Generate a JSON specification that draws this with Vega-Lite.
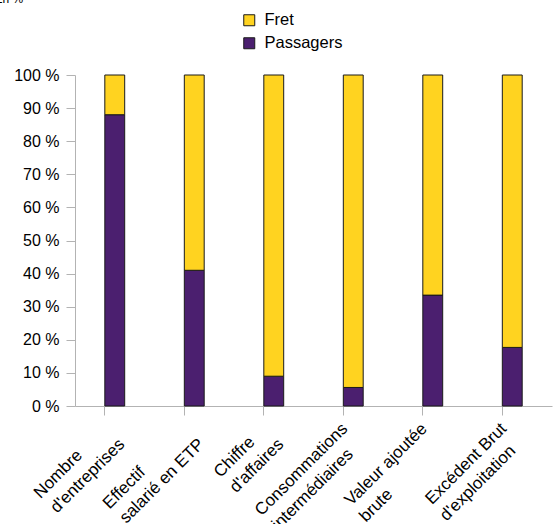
{
  "$schema": "https://vega.github.io/schema/vega-lite/v6.json",
  "width": 477,
  "height": 331,
  "autosize": "none",
  "padding": {"left": 75, "top": 75, "right": 1, "bottom": 118},
  "background": "white",
  "config": {"view": {"stroke": null}, "font": "Liberation Sans"},
  "data": {
    "values": [
      {"indicateur": "Nombre d'entreprises", "type": "Passagers", "part": 88},
      {"indicateur": "Nombre d'entreprises", "type": "Fret", "part": 12},
      {"indicateur": "Effectif salarié en ETP", "type": "Passagers", "part": 41},
      {"indicateur": "Effectif salarié en ETP", "type": "Fret", "part": 59},
      {"indicateur": "Chiffre d'affaires", "type": "Passagers", "part": 9},
      {"indicateur": "Chiffre d'affaires", "type": "Fret", "part": 91},
      {"indicateur": "Consommations intermédiaires", "type": "Passagers", "part": 5.6},
      {"indicateur": "Consommations intermédiaires", "type": "Fret", "part": 94.4},
      {"indicateur": "Valeur ajoutée brute", "type": "Passagers", "part": 33.5},
      {"indicateur": "Valeur ajoutée brute", "type": "Fret", "part": 66.5},
      {"indicateur": "Excédent Brut d'exploitation", "type": "Passagers", "part": 17.7},
      {"indicateur": "Excédent Brut d'exploitation", "type": "Fret", "part": 82.3}
    ]
  },
  "mark": {"type": "bar", "stroke": "#1a1a1a", "strokeWidth": 1},
  "encoding": {
    "x": {
      "field": "indicateur",
      "type": "nominal",
      "sort": null,
      "scale": {"paddingInner": 0.75, "paddingOuter": 0.375},
      "axis": {
        "title": null,
        "bandPosition": 0,
        "labelAngle": -45,
        "labelAlign": "right",
        "labelBaseline": "top",
        "labelOffset": -14,
        "labelPadding": 5,
        "labelFontSize": 17,
        "labelLineHeight": 22,
        "labelColor": "#000000",
        "labelOverlap": false,
        "labelBound": false,
        "labelFlush": false,
        "labelLimit": 0,
        "labelExpr": "datum.value == \"Nombre d'entreprises\" ? [\"Nombre\u00a0\u00a0\u00a0\u00a0\u00a0\u00a0\u00a0\u00a0\u200b\", \"d'entreprises\"] : datum.value == \"Effectif salarié en ETP\" ? [\"Effectif\u00a0\u00a0\u00a0\u00a0\u00a0\u00a0\u00a0\u00a0\u00a0\u00a0\u00a0\u00a0\u00a0\u200b\", \"salarié en ETP\"] : datum.value == \"Chiffre d'affaires\" ? [\"Chiffre\u00a0\u00a0\u00a0\u00a0\u200b\", \"d'affaires\"] : datum.value == \"Consommations intermédiaires\" ? [\"Consommations\", \"intermédiaires\u00a0\u00a0\u00a0\u200b\"] : datum.value == \"Valeur ajoutée brute\" ? [\"Valeur ajoutée\", \"brute\u00a0\u00a0\u00a0\u00a0\u00a0\u00a0\u00a0\u00a0\u00a0\u00a0\u00a0\u00a0\u00a0\u00a0\u00a0\u200b\"] : [\"Excédent Brut\", \"d'exploitation\u00a0\u00a0\u200b\"]",
        "tickSize": 9,
        "tickColor": "#b3b3b3",
        "domainColor": "#b3b3b3"
      }
    },
    "y": {
      "field": "part",
      "type": "quantitative",
      "stack": "zero",
      "scale": {"domain": [0, 100], "nice": false},
      "axis": {
        "title": "En %",
        "titleAngle": 0,
        "titleAlign": "left",
        "titleBaseline": "alphabetic",
        "titleX": -81,
        "titleY": -73,
        "titleFontSize": 12,
        "titleFontWeight": "normal",
        "titleColor": "#000000",
        "values": [0, 10, 20, 30, 40, 50, 60, 70, 80, 90, 100],
        "labelExpr": "datum.value + ' %'",
        "labelFontSize": 16,
        "labelColor": "#000000",
        "labelPadding": 7,
        "tickSize": 9,
        "tickColor": "#b3b3b3",
        "domainColor": "#b3b3b3",
        "grid": false
      }
    },
    "color": {
      "field": "type",
      "type": "nominal",
      "scale": {"domain": ["Fret", "Passagers"], "range": ["#FFD320", "#4B1F6F"]},
      "legend": {
        "title": null,
        "orient": "none",
        "legendX": 166,
        "legendY": -63,
        "padding": 0,
        "symbolType": "square",
        "symbolSize": 121,
        "symbolStrokeColor": "#1a1a1a",
        "symbolStrokeWidth": 1,
        "labelFontSize": 16.5,
        "labelColor": "#000000",
        "labelOffset": 7,
        "rowPadding": 6
      }
    },
    "order": {"field": "type", "sort": "descending"}
  }
}
